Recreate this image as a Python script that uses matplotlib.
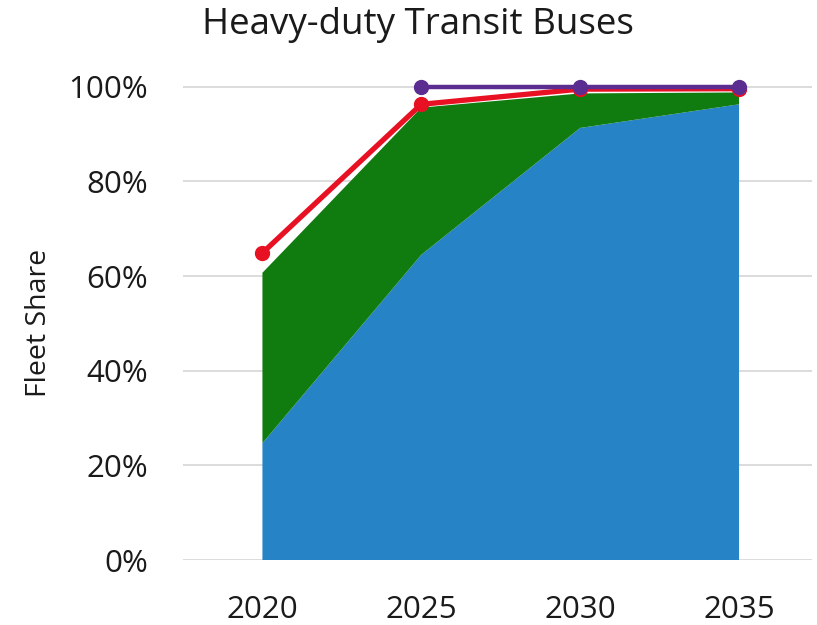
"""Heavy-duty transit bus fleet share, stacked areas with two overlay lines."""

import matplotlib
matplotlib.use("Agg")
import matplotlib.pyplot as plt
from matplotlib.ticker import PercentFormatter

YEARS = [2020, 2025, 2030, 2035]
BLUE_SHARE = [0.247, 0.645, 0.913, 0.963]
GREEN_SHARE = [0.360, 0.311, 0.073, 0.025]
RED_LINE = [0.649, 0.963, 0.995, 0.996]
PURPLE_YEARS = [2025, 2030, 2035]
PURPLE_LINE = [1.0, 1.0, 1.0]
Y_TICKS = [0, 0.2, 0.4, 0.6, 0.8, 1.0]

BLUE = "#2683C6"
GREEN = "#107C10"
RED = "#E81123"
PURPLE = "#5C2D91"

plt.rcParams["font.family"] = ["Open Sans", "DejaVu Sans"]


def main():
    fig = plt.figure(figsize=(8.17, 6.25), dpi=100)
    ax = fig.add_axes([0.224, 0.104, 0.770, 0.795])

    ax.stackplot(YEARS, BLUE_SHARE, GREEN_SHARE, colors=[BLUE, GREEN], zorder=2)
    ax.plot(YEARS, RED_LINE, color=RED, lw=3.8, marker="o", ms=10, zorder=3,
            solid_capstyle="round")
    ax.plot(PURPLE_YEARS, PURPLE_LINE, color=PURPLE, lw=3.2, marker="o", ms=10,
            zorder=4)

    ax.set_xlim(2017.5, 2037.3)
    ax.set_ylim(0, 1.05)
    ax.set_xticks(YEARS)
    ax.set_yticks(Y_TICKS)
    ax.yaxis.set_major_formatter(PercentFormatter(1.0, decimals=0))
    ax.tick_params(length=0, labelsize=22.5, colors="#1a1a1a")
    ax.tick_params(axis="y", pad=25)
    ax.tick_params(axis="x", pad=25)
    ax.grid(axis="y", color="#d9d9d9", lw=1.3, zorder=0)
    ax.set_axisbelow(True)
    for spine in ax.spines.values():
        spine.set_visible(False)

    ax.set_ylabel("Fleet Share", fontsize=20.5, color="#1a1a1a")
    ax.yaxis.set_label_coords(-0.207, 0.477)
    fig.text(0.511, 0.96, "Heavy-duty Transit Buses", ha="center", va="center",
             fontsize=26.5, color="#1a1a1a")

    fig.savefig("out.png", dpi=100, facecolor="white")
    plt.close(fig)


if __name__ == "__main__":
    main()
